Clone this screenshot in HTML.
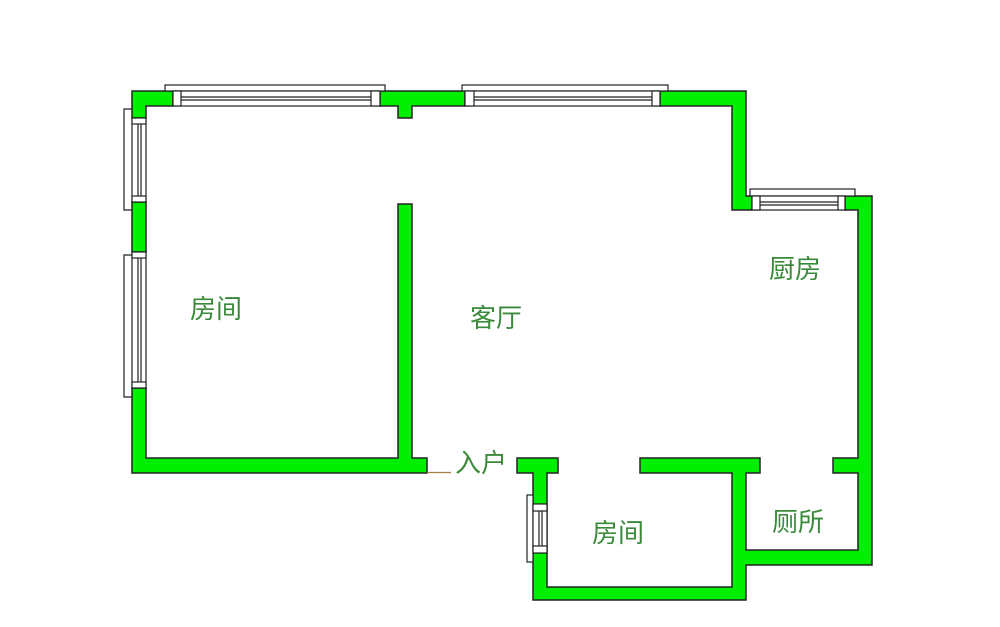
<!DOCTYPE html>
<html><head><meta charset="utf-8"><style>
html,body{margin:0;padding:0;background:#fff;width:1000px;height:627px;overflow:hidden}
text{font-family:"Liberation Sans","Noto Sans CJK SC",sans-serif;font-size:26px;fill:#3a8a3a}
</style></head><body>
<svg width="1000" height="627" viewBox="0 0 1000 627" xmlns="http://www.w3.org/2000/svg">
<g fill="#00ee00" stroke="#222" stroke-width="1.5">
<path d="M132 91 H173 V106 H146 V118 H132 Z"/>
<path d="M380 91 H465 V106 H412 V118 H398 V106 H380 Z"/>
<path d="M660 91 H746 V196 H752 V210 H732 V106 H660 Z"/>
<path d="M845 196 H872 V565 H746 V600 H533 V473 H517 V458 H558 V473 H547 V587 H732 V473 H640 V458 H760 V473 H746 V550 H858 V473 H833 V458 H858 V210 H845 Z"/>
<rect x="132" y="202" width="14" height="50"/>
<path d="M132 388 H146 V458 H398 V204 H412 V458 H427 V473 H132 Z"/>
</g>
<g fill="#fff" stroke="#222" stroke-width="1.2">
<rect x="165" y="85" width="220" height="6"/>
<rect x="173" y="91" width="207" height="15"/>
<rect x="173" y="91" width="8" height="15"/><rect x="371" y="91" width="9" height="15"/>
<line x1="181" y1="97" x2="371" y2="97"/><line x1="181" y1="100" x2="371" y2="100"/>
<rect x="462" y="85" width="206" height="6"/>
<rect x="465" y="91" width="195" height="15"/>
<rect x="465" y="91" width="9" height="15"/><rect x="652" y="91" width="8" height="15"/>
<line x1="474" y1="97" x2="652" y2="97"/><line x1="474" y1="100" x2="652" y2="100"/>
<rect x="750" y="189" width="105" height="7"/>
<rect x="752" y="196" width="93" height="14"/>
<rect x="752" y="196" width="8" height="14"/><rect x="838" y="196" width="7" height="14"/>
<line x1="760" y1="202" x2="838" y2="202"/><line x1="760" y1="205" x2="838" y2="205"/>
<polyline points="132,109 124,109 124,210 132,210" fill="none"/>
<rect x="132" y="118" width="14" height="84"/>
<rect x="132" y="118" width="14" height="6"/><rect x="132" y="196" width="14" height="6"/>
<line x1="138" y1="124" x2="138" y2="196"/><line x1="141" y1="124" x2="141" y2="196"/>
<polyline points="132,255 124,255 124,397 132,397" fill="none"/>
<rect x="132" y="252" width="14" height="136"/>
<rect x="132" y="252" width="14" height="6"/><rect x="132" y="382" width="14" height="6"/>
<line x1="138" y1="258" x2="138" y2="382"/><line x1="141" y1="258" x2="141" y2="382"/>
<rect x="527" y="495" width="6" height="67"/>
<rect x="533" y="504" width="14" height="49"/>
<rect x="533" y="504" width="14" height="7"/><rect x="533" y="546" width="14" height="7"/>
<line x1="539" y1="511" x2="539" y2="546"/><line x1="542" y1="511" x2="542" y2="546"/>
</g>
<line x1="427" y1="472.5" x2="451" y2="472.5" stroke="#a08040" stroke-width="1.2"/>
<text x="190" y="318">房间</text>
<text x="470" y="327">客厅</text>
<text x="769" y="278">厨房</text>
<text x="455" y="472">入户</text>
<text x="592" y="542">房间</text>
<text x="772" y="531">厕所</text>
</svg>
</body></html>
